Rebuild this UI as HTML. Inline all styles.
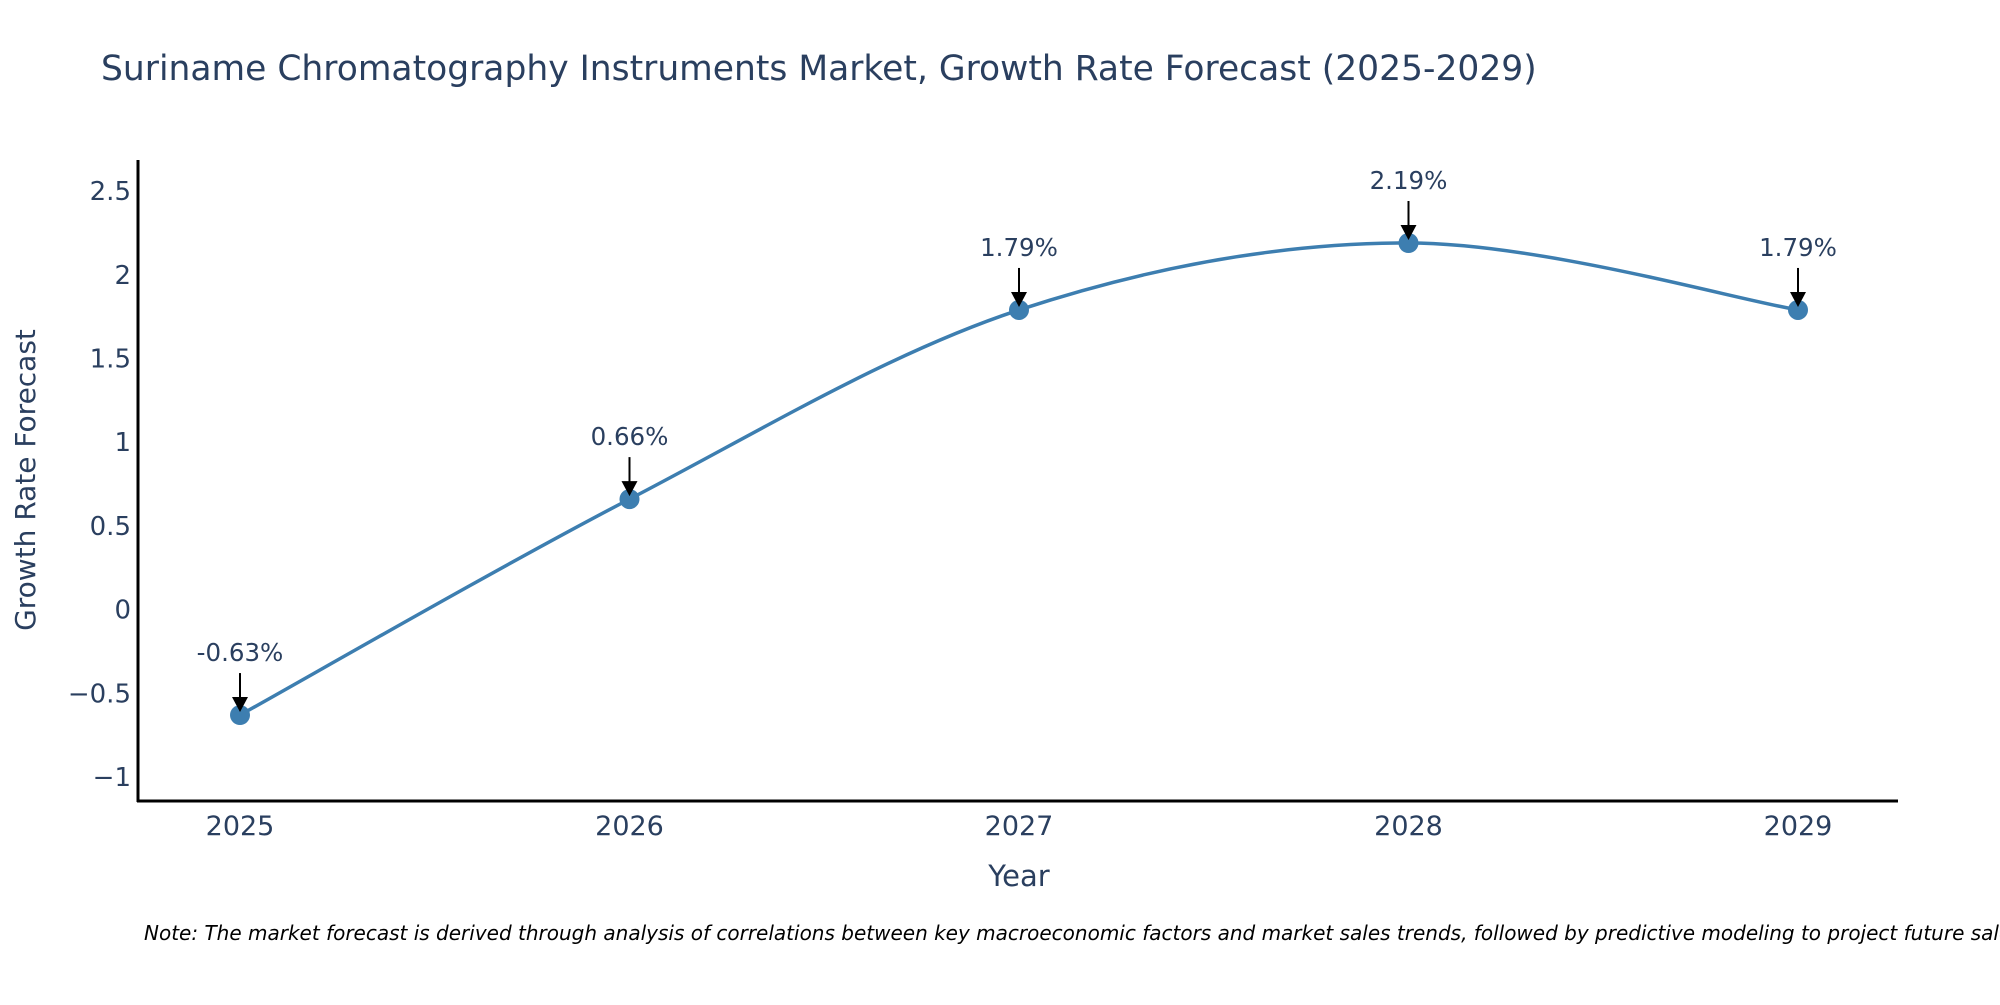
<!DOCTYPE html>
<html><head><meta charset="utf-8">
<style>
body{margin:0;background:#fff;overflow:hidden;}
svg text{font-family:"DejaVu Sans","Liberation Sans",sans-serif;}
</style></head>
<body>
<svg id="chart" width="2000" height="1000" viewBox="0 0 2000 1000" xmlns="http://www.w3.org/2000/svg">
<text x="101" y="80" font-size="34.5" fill="#2a3f5f">Suriname Chromatography Instruments Market, Growth Rate Forecast (2025-2029)</text>
<g id="yticks"></g>
<g id="xticks"></g>
<line x1="138" y1="160" x2="138" y2="802" stroke="#000" stroke-width="3"/>
<line x1="137" y1="801" x2="1898" y2="801" stroke="#000" stroke-width="3"/>
<text x="0" y="0" transform="translate(35,480) rotate(-90)" text-anchor="middle" font-size="28" fill="#2a3f5f">Growth Rate Forecast</text>
<text x="1019" y="886" text-anchor="middle" font-size="29" fill="#2a3f5f">Year</text>
<path id="line" fill="none" stroke="#3d7eb0" stroke-width="3.5"/>
<g id="marks"></g>
<text x="144" y="940" font-size="20" font-style="italic" fill="#000">Note: The market forecast is derived through analysis of correlations between key macroeconomic factors and market sales trends, followed by predictive modeling to project future sales.</text>
</svg>
<script>
const years = [2025, 2026, 2027, 2028, 2029];
const growth = [-0.63, 0.66, 1.79, 2.19, 1.79];
const labels = ["-0.63%", "0.66%", "1.79%", "2.19%", "1.79%"];
const yTicks = [-1, -0.5, 0, 0.5, 1, 1.5, 2, 2.5];
const yTickLabels = ["\u22121", "\u22120.5", "0", "0.5", "1", "1.5", "2", "2.5"];

const NS = "http://www.w3.org/2000/svg";
function xs(v){ return 240 + (v - 2025) * 389.5; }
function ys(v){ return 609.6 - v * 167.4; }
function mk(tag, attrs, parent){ const e = document.createElementNS(NS, tag); for (const k in attrs) e.setAttribute(k, attrs[k]); parent.appendChild(e); return e; }

const yg = document.getElementById('yticks');
yTicks.forEach((t, i) => {
  const e = mk('text', {x:131, y:ys(t)+9, 'text-anchor':'end', 'font-size':26, fill:'#2a3f5f'}, yg);
  
  
  e.textContent = yTickLabels[i];
});
const xg = document.getElementById('xticks');
years.forEach(y => {
  const e = mk('text', {x:xs(y), y:835, 'text-anchor':'middle', 'font-size':27, fill:'#2a3f5f'}, xg);
  
  
  e.textContent = String(y);
});

const pts = years.map((y, i) => [xs(y), ys(growth[i])]);
let d = 'M' + pts[0][0] + ',' + pts[0][1];
const tension = 1 / 3;
for (let i = 0; i < pts.length - 1; i++) {
  const p0 = pts[Math.max(0, i-1)], p1 = pts[i], p2 = pts[i+1], p3 = pts[Math.min(pts.length-1, i+2)];
  const c1 = [p1[0] + (p2[0]-p0[0]) * tension / 2, p1[1] + (p2[1]-p0[1]) * tension / 2];
  const c2 = [p2[0] - (p3[0]-p1[0]) * tension / 2, p2[1] - (p3[1]-p1[1]) * tension / 2];
  d += ' C' + c1[0] + ',' + c1[1] + ' ' + c2[0] + ',' + c2[1] + ' ' + p2[0] + ',' + p2[1];
}
document.getElementById('line').setAttribute('d', d);

const mg = document.getElementById('marks');
pts.forEach((p, i) => {
  const c = mk('circle', {cx:p[0], cy:p[1], r:10, fill:'#3d7eb0'}, mg);
  
  
  const l = mk('line', {x1:p[0], y1:p[1]-42, x2:p[0], y2:p[1]-14, stroke:'#000', 'stroke-width':2}, mg);
  
  
  const a = mk('polygon', {points:(p[0]-8)+','+(p[1]-18)+' '+(p[0]+8)+','+(p[1]-18)+' '+p[0]+','+(p[1]-3), fill:'#000'}, mg);
  
  
  const t = mk('text', {x:p[0], y:p[1]-54, 'text-anchor':'middle', 'font-size':24.5, fill:'#2a3f5f'}, mg);
  
  
  t.textContent = labels[i];
});
</script>
</body></html>
